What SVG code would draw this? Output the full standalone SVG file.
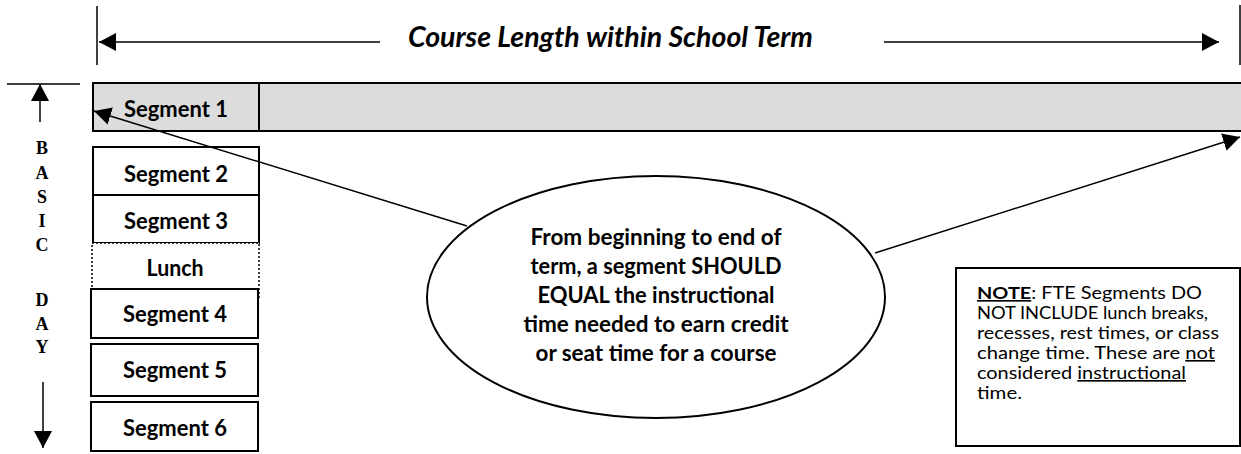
<svg xmlns="http://www.w3.org/2000/svg" width="1241" height="454" viewBox="0 0 1241 454">
<style>
.seg{fill:#fff;stroke:#000;stroke-width:2}
.lbl{font-family:Lato,"Open Sans",sans-serif;font-weight:bold;font-size:22px;text-anchor:middle;fill:#000}
.side{font-family:"Liberation Serif",serif;font-weight:bold;font-size:18px;text-anchor:middle;fill:#000}
.ln{stroke:#000;stroke-width:1.5;fill:none}
.ell{font-family:Lato,"Open Sans",sans-serif;font-weight:bold;font-size:22.5px;text-anchor:middle;fill:#000}
.note{font-family:Lato,"Open Sans",sans-serif;font-size:16.4px;fill:#000}
</style>
<defs>
<marker id="ah" markerUnits="userSpaceOnUse" markerWidth="19" markerHeight="19" refX="17" refY="9" orient="auto">
<path d="M0,0 L17,9 L0,18 Z" fill="#000"/>
</marker>
</defs>
<rect width="1241" height="454" fill="#fff"/>

<g id="course-length">
<line class="ln" x1="97" y1="6" x2="97" y2="65"/>
<line class="ln" x1="1240" y1="5" x2="1240" y2="65"/>
<line class="ln" x1="380" y1="42" x2="99" y2="42" marker-end="url(#ah)"/>
<line class="ln" x1="884" y1="42" x2="1219" y2="42" marker-end="url(#ah)"/>
<text x="408" y="47" font-family="Lato,'Open Sans',sans-serif" font-weight="bold" font-style="italic" font-size="28" textLength="405" lengthAdjust="spacingAndGlyphs">Course Length within School Term</text>
</g>

<g id="basic-day">
<line class="ln" x1="7" y1="84" x2="80" y2="84"/>
<line class="ln" x1="40" y1="122" x2="40" y2="84" marker-end="url(#ah)"/>
<line class="ln" x1="43" y1="382" x2="43" y2="448" marker-end="url(#ah)"/>
<text class="side" x="42" y="154">B</text>
<text class="side" x="42" y="179">A</text>
<text class="side" x="42" y="203">S</text>
<text class="side" x="42" y="227">I</text>
<text class="side" x="42" y="251">C</text>
<text class="side" x="42" y="306">D</text>
<text class="side" x="42" y="330">A</text>
<text class="side" x="42" y="353">Y</text>
</g>

<g id="segment-1">
<rect x="93" y="83" width="1160" height="48" fill="#dcdcdc" stroke="#000" stroke-width="2"/>
<line x1="259" y1="83" x2="259" y2="131" stroke="#000" stroke-width="2"/>
<text class="lbl" x="176" y="117" textLength="104" lengthAdjust="spacingAndGlyphs">Segment 1</text>
</g>
<g id="segment-2">
<rect class="seg" x="93" y="147" width="166" height="48"/>
<text class="lbl" x="176" y="182" textLength="104" lengthAdjust="spacingAndGlyphs">Segment 2</text>
</g>
<g id="segment-3">
<rect class="seg" x="93" y="195" width="166" height="48"/>
<text class="lbl" x="176" y="229" textLength="104" lengthAdjust="spacingAndGlyphs">Segment 3</text>
</g>
<g id="lunch">
<rect x="92" y="243" width="167" height="55" fill="#fff" stroke="#000" stroke-width="1.5" stroke-dasharray="2,2"/>
<text class="lbl" x="175" y="276" textLength="57" lengthAdjust="spacingAndGlyphs">Lunch</text>
</g>
<g id="segment-4">
<rect class="seg" x="91" y="289" width="167" height="49"/>
<text class="lbl" x="175" y="322" textLength="104" lengthAdjust="spacingAndGlyphs">Segment 4</text>
</g>
<g id="segment-5">
<rect class="seg" x="91" y="344" width="167" height="52"/>
<text class="lbl" x="175" y="378" textLength="104" lengthAdjust="spacingAndGlyphs">Segment 5</text>
</g>
<g id="segment-6">
<rect class="seg" x="91" y="402" width="167" height="49"/>
<text class="lbl" x="175" y="436" textLength="104" lengthAdjust="spacingAndGlyphs">Segment 6</text>
</g>

<g id="connectors">
<line class="ln" x1="467" y1="226" x2="94" y2="111" marker-end="url(#ah)"/>
<line class="ln" x1="875" y1="253" x2="1240" y2="137" marker-end="url(#ah)"/>
</g>

<g id="callout">
<ellipse cx="656" cy="297" rx="229" ry="121" fill="#fff" stroke="#000" stroke-width="2"/>
<text class="ell" x="656" y="245" textLength="251" lengthAdjust="spacingAndGlyphs">From beginning to end of</text>
<text class="ell" x="656" y="274" textLength="251" lengthAdjust="spacingAndGlyphs">term, a segment SHOULD</text>
<text class="ell" x="656" y="303" textLength="237" lengthAdjust="spacingAndGlyphs">EQUAL the instructional</text>
<text class="ell" x="656" y="332" textLength="265" lengthAdjust="spacingAndGlyphs">time needed to earn credit</text>
<text class="ell" x="656" y="361" textLength="241" lengthAdjust="spacingAndGlyphs">or seat time for a course</text>
</g>

<g id="note">
<rect x="956" y="268" width="284" height="178" fill="#fff" stroke="#000" stroke-width="2"/>
<text class="note" x="977" y="299" textLength="225" lengthAdjust="spacingAndGlyphs"><tspan font-weight="bold" text-decoration="underline">NOTE</tspan>:  FTE Segments DO</text>
<text class="note" x="977" y="319" textLength="231" lengthAdjust="spacingAndGlyphs">NOT INCLUDE lunch breaks,</text>
<text class="note" x="977" y="339" textLength="242" lengthAdjust="spacingAndGlyphs">recesses, rest times, or class</text>
<text class="note" x="977" y="359" textLength="238" lengthAdjust="spacingAndGlyphs">change time.  These are <tspan text-decoration="underline">not</tspan></text>
<text class="note" x="977" y="379" textLength="209" lengthAdjust="spacingAndGlyphs">considered <tspan text-decoration="underline">instructional</tspan></text>
<text class="note" x="977" y="399" textLength="45" lengthAdjust="spacingAndGlyphs">time.</text>
</g>
</svg>
